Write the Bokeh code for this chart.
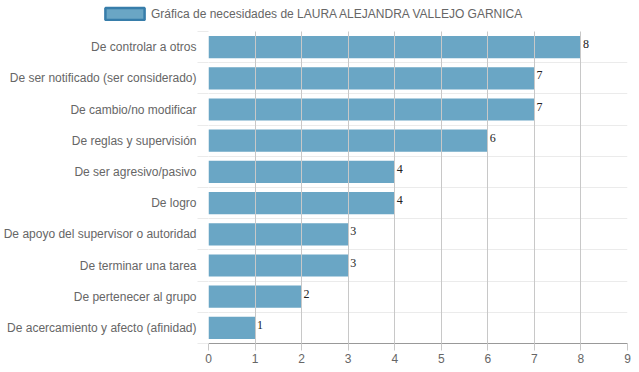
from bokeh.plotting import figure
from bokeh.layouts import column
from bokeh.models import ColumnDataSource, FixedTicker, Legend, LegendItem, Range1d
from bokeh.core.properties import value
from bokeh.embed import file_html
from bokeh.resources import INLINE

categories = [
    "De controlar a otros",
    "De ser notificado (ser considerado)",
    "De cambio/no modificar",
    "De reglas y supervisión",
    "De ser agresivo/pasivo",
    "De logro",
    "De apoyo del supervisor o autoridad",
    "De terminar una tarea",
    "De pertenecer al grupo",
    "De acercamiento y afecto (afinidad)",
]
values = [8, 7, 7, 6, 4, 4, 3, 3, 2, 1]
x_ticks = [0, 1, 2, 3, 4, 5, 6, 7, 8, 9]
series_name = "Gráfica de necesidades de LAURA ALEJANDRA VALLEJO GARNICA"

n = len(categories)
ypos = [n - i - 0.5 for i in range(n)]
source = ColumnDataSource(dict(y=ypos, v=values, lab=[str(v) for v in values]))

FONT = "Liberation Sans"
TXT = "#666666"
W = 631

# ---- top strip holding the legend ----
top = figure(width=W, height=31, output_backend="svg", toolbar_location=None,
             x_range=Range1d(0, 1), y_range=Range1d(0, 1),
             min_border_left=0, min_border_right=0, min_border_top=0, min_border_bottom=0)
top.axis.visible = False
top.grid.visible = False
top.outline_line_color = None
top.frame_align = False
dummy = top.rect(x=[5], y=[5], width=1, height=1, fill_color="rgb(56,136,178)", fill_alpha=0.75,
                 line_color="rgb(55,125,170)", line_width=2.5)
legend = Legend(items=[LegendItem(label=series_name, renderers=[dummy])],
                orientation="horizontal", location=(100, 10),
                glyph_width=49, glyph_height=15, label_standoff=2,
                label_text_font=FONT, label_text_font_size="12px", label_text_color=TXT,
                border_line_alpha=0, background_fill_alpha=0, padding=0, margin=0,
                spacing=0, label_height=15)
top.add_layout(legend)

# ---- main chart ----
p = figure(width=W, height=334, output_backend="svg", toolbar_location=None,
           x_range=Range1d(0, 9), y_range=Range1d(0, n),
           min_border_left=0, min_border_right=4, min_border_top=0, min_border_bottom=0)
p.outline_line_color = None
p.frame_align = False

p.hbar(y="y", right="v", left=0, height=0.71, source=source,
       fill_color="rgb(56,136,178)", fill_alpha=0.75, line_color=None)
p.text(x="v", y="y", text="lab", source=source, x_offset=2, y_offset=-3,
       text_font=value("Liberation Serif"), text_font_size="12px",
       text_color="#222222", text_baseline="middle", text_align="left")

# x axis
p.xaxis.ticker = FixedTicker(ticks=x_ticks)
p.xaxis.major_label_text_font = FONT
p.xaxis.major_label_text_font_size = "12px"
p.xaxis.major_label_text_color = TXT
p.xaxis.axis_line_color = "#999999"
p.xaxis.major_tick_line_color = "#c8c8c8"
p.xaxis.major_tick_out = 7
p.xaxis.major_tick_in = 0
p.xaxis.minor_tick_line_color = None
p.xaxis.major_label_standoff = 3

# y axis
p.yaxis.ticker = FixedTicker(ticks=ypos, minor_ticks=list(range(n + 1)))
p.yaxis.major_label_overrides = {y: c for y, c in zip(ypos, categories)}
p.yaxis.major_label_text_font = FONT
p.yaxis.major_label_text_font_size = "12px"
p.yaxis.major_label_text_color = TXT
p.yaxis.axis_line_color = None
p.yaxis.major_tick_line_color = None
p.yaxis.major_tick_out = 0
p.yaxis.minor_tick_line_color = "#ebebeb"
p.yaxis.minor_tick_out = 11
p.yaxis.minor_tick_in = 0
p.yaxis.major_label_standoff = 1

p.xgrid.ticker = FixedTicker(ticks=x_ticks)
p.xgrid.grid_line_color = "#c8c8c8"
p.xgrid.level = "overlay"
p.ygrid.ticker = FixedTicker(ticks=list(range(n + 1)))
p.ygrid.grid_line_color = "#ebebeb"

layout = column(top, p, spacing=0)
open("out.html", "w").write(file_html(layout, INLINE))
